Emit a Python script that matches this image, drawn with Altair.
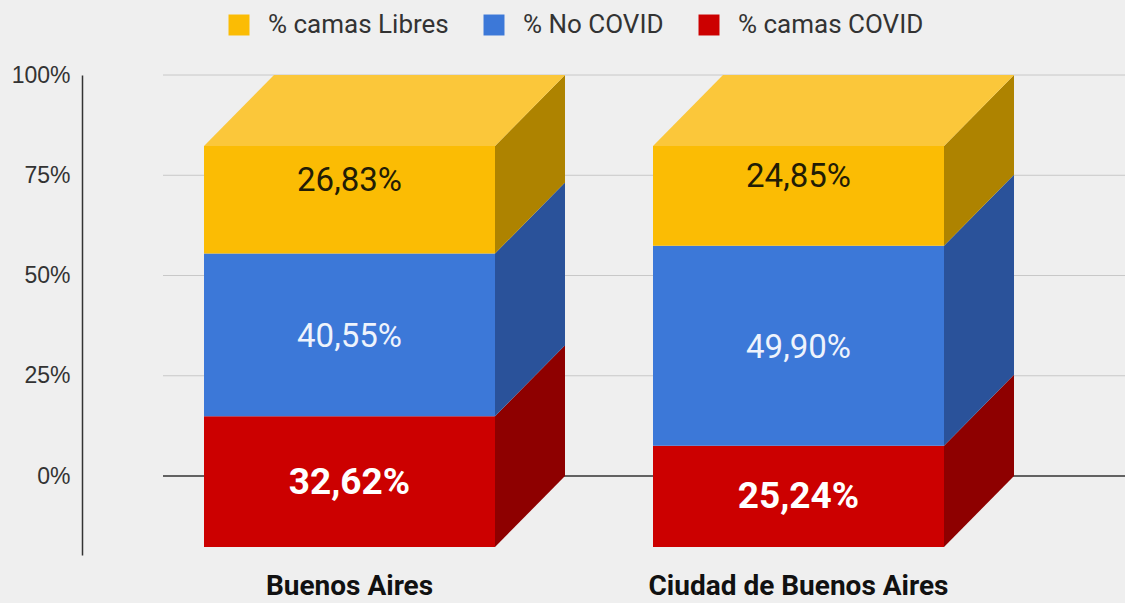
import altair as alt
import pandas as pd

# ---------------- data ----------------
categories = ["Buenos Aires", "Ciudad de Buenos Aires"]
series = ["% camas COVID", "% No COVID", "% camas Libres"]  # stacked bottom -> top
covid = [32.62, 25.24]
no_covid = [40.55, 49.90]
libres = [26.83, 24.85]
y_ticks = [0, 25, 50, 75, 100]
legend_order = ["% camas Libres", "% No COVID", "% camas COVID"]

# ---------------- style / layout ----------------
front_colors = {"% camas COVID": "#cc0000", "% No COVID": "#3c78d8", "% camas Libres": "#fbbc04"}
side_colors = {"% camas COVID": "#8e0000", "% No COVID": "#2a529a", "% camas Libres": "#ae8300"}
top_color = "#fbc73a"
BG = "#efefef"

W, H = 1043, 480
Y_MIN, Y_MAX = -19.7, 100
DX = 70      # 3D depth, x units
DY = 17.7    # 3D depth, y units (%)
BAR_LEFT0 = 122
BAR_STEP = 449
BAR_W = 291
GRID_X0 = 81

values = {"% camas COVID": covid, "% No COVID": no_covid, "% camas Libres": libres}

front, side, top = [], [], []
for i, cat in enumerate(categories):
    xl = BAR_LEFT0 + i * BAR_STEP
    xr = xl + BAR_W
    start = 0.0
    for s in series:
        v = values[s][i]
        end = start + v
        key = f"{cat}|{s}"
        front.append(dict(cat=cat, series=s, x=xl, x2=xr, y=start - DY, y2=end - DY,
                          ymid=(start + end) / 2 - DY, xc=(xl + xr) / 2,
                          label=f"{v:.2f}".replace(".", ",") + "%"))
        side.append(dict(key=key, x=xr, lo=start - DY, hi=end - DY, fill=side_colors[s]))
        side.append(dict(key=key, x=xr + DX, lo=start, hi=end, fill=side_colors[s]))
        start = end
    top.append(dict(key=cat, y=start - DY, x=xl, x2=xr, fill=top_color))
    top.append(dict(key=cat, y=start, x=xl + DX, x2=xr + DX, fill=top_color))

front_df = pd.DataFrame(front)
side_df = pd.DataFrame(side)
top_df = pd.DataFrame(top)
grid_df = pd.DataFrame({"y": [t for t in y_ticks if t != 0], "x": GRID_X0, "x2": W})
zero_df = pd.DataFrame({"y": [0], "x": [GRID_X0], "x2": [W]})
cat_df = front_df.drop_duplicates("cat")[["cat", "xc"]]

xs = alt.Scale(domain=[0, W], nice=False, zero=False)
ys = alt.Scale(domain=[Y_MIN, Y_MAX], nice=False, zero=False)

yaxis = alt.Axis(values=y_ticks, labelExpr="datum.value + '%'", grid=False, ticks=False,
                 domain=True, domainColor="#333333", domainWidth=1.5, labelFontSize=23,
                 labelColor="#333333", labelPadding=12, labelFont="Liberation Sans",
                 title=None)


def X(f):
    return alt.X(f, type="quantitative", scale=xs, axis=None)


def X2(f):
    return alt.X2(f)


def Y(f):
    return alt.Y(f, type="quantitative", scale=ys, axis=yaxis)


grid = alt.Chart(grid_df).mark_rule(color="#c8c8c8", strokeWidth=1).encode(
    x=X("x"), x2=X2("x2"), y=Y("y"))
zero = alt.Chart(zero_df).mark_rule(color="#333333", strokeWidth=1.5).encode(
    x=X("x"), x2=X2("x2"), y=Y("y"))

sides = alt.Chart(side_df).mark_area(orient="vertical").encode(
    x=X("x"), y=Y("lo"), y2=alt.Y2("hi"), detail="key:N",
    fill=alt.Fill("fill:N", scale=None))

tops = alt.Chart(top_df).mark_area(orient="horizontal").encode(
    y=Y("y"), x=X("x"), x2=X2("x2"), detail="key:N",
    fill=alt.Fill("fill:N", scale=None))

fronts = alt.Chart(front_df).mark_rect().encode(
    x=X("x"), x2=X2("x2"), y=Y("y"), y2=alt.Y2("y2"),
    color=alt.Color("series:N",
                    scale=alt.Scale(domain=legend_order,
                                    range=[front_colors[s] for s in legend_order]),
                    legend=alt.Legend(orient="none", legendX=144, legendY=-63,
                                      direction="horizontal", title=None,
                                      symbolType="square", symbolSize=440,
                                      symbolStrokeWidth=0, labelFontSize=26,
                                      labelFont="Roboto", labelColor="#333333",
                                      labelLimit=0, columnPadding=32, labelOffset=16)))

lab_libres = alt.Chart(front_df[front_df.series == "% camas Libres"]).mark_text(
    font="Roboto", fontSize=33, color="#221c05", dy=-19).encode(
    x=X("xc"), y=Y("ymid"), text="label:N")
lab_no = alt.Chart(front_df[front_df.series == "% No COVID"]).mark_text(
    font="Roboto", fontSize=33, color="#eef3fc", dy=2).encode(
    x=X("xc"), y=Y("ymid"), text="label:N")
lab_covid = alt.Chart(front_df[front_df.series == "% camas COVID"]).mark_text(
    font="Roboto", fontSize=37, fontWeight="bold", color="#ffffff", dy=1).encode(
    x=X("xc"), y=Y("ymid"), text="label:N")

cat_labels = alt.Chart(cat_df).mark_text(
    font="Roboto", fontSize=28, fontWeight="bold", color="#111111").encode(
    x=X("xc"), y=alt.value(H + 32), text="cat:N")

chart = alt.layer(grid, zero, sides, tops, fronts, lab_libres, lab_no, lab_covid, cat_labels).properties(
    width=W, height=H,
    autosize=alt.AutoSizeParams(type="none"),
    padding={"left": 82, "top": 75, "right": 0, "bottom": 48},
    background=BG,
).configure_view(stroke=None)

chart.save("out.html", embed_options={"renderer": "svg", "actions": False})
